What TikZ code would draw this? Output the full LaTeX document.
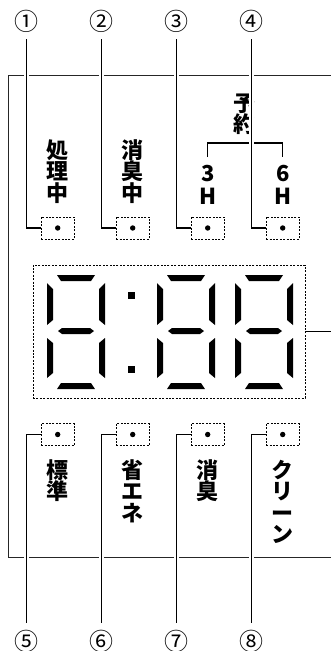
\documentclass[tikz,border=0pt]{standalone}
\usepackage{fontspec}
\usepackage{graphicx}
\usetikzlibrary{positioning}
\newfontfamily\jpfont{Noto Sans CJK JP}
\newfontfamily\jpvert[RawFeature=+vert]{Noto Sans CJK JP}

\begin{document}
\begin{tikzpicture}[
    x=1pt, y=1pt,
    node distance=75pt,
    lamp/.style={rectangle, draw, dash pattern=on 2pt off 1.4pt, line width=0.8pt, minimum width=33pt, minimum height=22pt, inner sep=0pt},
    numlabel/.style={font=\jpfont\fontsize{24}{24}\selectfont, inner sep=0pt, outer ysep=7pt},
    panel/.style={font=\jpfont\bfseries\fontsize{22}{21.5}\selectfont, align=center, inner sep=0pt},
    leader/.style={line width=1.5pt, preaction={draw=white, line width=5pt}},
    bracket/.style={line width=1.5pt},
    frame/.style={draw=black!85, line width=0.8pt}
]
    \useasboundingbox (0,0) rectangle (331,-651);

    % outer panel, open to the right
    \draw[frame] (8,-75) rectangle (345,-557);

    % lamps
    \node[lamp] (lamp1) at (57.7,-228) {};
    \node[lamp, right of=lamp1] (lamp2) {};
    \node[lamp, right of=lamp2] (lamp3) {};
    \node[lamp, right of=lamp3] (lamp4) {};
    \node[lamp, below of=lamp1, node distance=206.5pt] (lamp5) {};
    \node[lamp, right of=lamp5] (lamp6) {};
    \node[lamp, right of=lamp6] (lamp7) {};
    \node[lamp, right of=lamp7] (lamp8) {};
    \foreach \i in {1,...,8}
        \fill (lamp\i) circle (2.7pt);

    % panel texts
    \node[panel] (busy) at (57.7,-171.5) {処\\理\\中};
    \node[panel, right of=busy] (deodor) {消\\臭\\中};
    \node[panel, font=\jpfont\bfseries\fontsize{22}{23}\selectfont] (h3) at (207.7,-185) {3\\H};
    \node[panel, font=\jpfont\bfseries\fontsize{22}{23}\selectfont, right of=h3] (h6) {6\\H};
    \node[panel] (timer) at (244,-114) {予\\約};
    \draw[bracket] ([yshift=28pt]h3.center) -- ++(0,14) -| ([yshift=28pt]h6.center);

    \node[panel] (std) at (57.7,-480.5) {標\\準};
    \node[panel, right of=std, yshift=-10.75pt] (eco) {省\\エ\\ネ};
    \node[panel, right of=std, xshift=75pt] (deo) {消\\臭};
    \node[panel, right of=deo, yshift=-21.5pt] (clean) {\jpvert ク\\リ\\ー\\ン};

    % time display
    \node[lamp, minimum width=272pt, minimum height=133pt] (display) at (169,-331.5) {};
    \coordinate (offpage) at (345,-331.5);
    \draw[line width=1pt] (display) -- (offpage);
    \foreach \dx in {47,157,235} {
        \begin{scope}[shift={(\dx,-273)}]
            \fill (10,-2) -- (48,-2) -- (44,-8) -- (14,-8) -- cycle;
            \fill (0,-10) -- (6,-16) -- (6,-47) -- (0,-52) -- cycle;
            \fill (58,-10) -- (52,-16) -- (52,-47) -- (58,-52) -- cycle;
            \fill (11,-58) -- (15,-55) -- (43,-55) -- (47,-58) -- (43,-61) -- (15,-61) -- cycle;
            \fill (0,-65) -- (6,-70) -- (6,-100) -- (0,-105) -- cycle;
            \fill (58,-65) -- (52,-70) -- (52,-100) -- (58,-105) -- cycle;
            \fill (14,-110) -- (44,-110) -- (48,-116) -- (10,-116) -- cycle;
        \end{scope}
    }
    \fill (128.2,-291.5) rectangle (135.2,-298.5);
    \fill (128.2,-365.5) rectangle (135.2,-372.5);

    % callout numbers
    \node[numlabel] (n1) at (26.7,-21) {①};
    \node[numlabel, right of=n1] (n2) {②};
    \node[numlabel, right of=n2] (n3) {③};
    \node[numlabel, right of=n3] (n4) {④};
    \node[numlabel] (n5) at (26.7,-641) {⑤};
    \node[numlabel, right of=n5] (n6) {⑥};
    \node[numlabel, right of=n6] (n7) {⑦};
    \node[numlabel, right of=n7] (n8) {⑧};

    \foreach \i in {1,...,4}
        \draw[leader] (n\i.south) |- (lamp\i.west);
    \foreach \i in {5,...,8}
        \draw[leader] (n\i.north) |- (lamp\i.west);
\end{tikzpicture}
\end{document}
